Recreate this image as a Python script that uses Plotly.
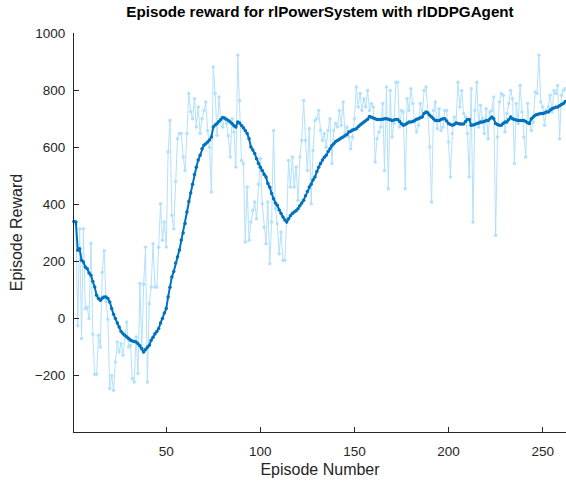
import plotly.graph_objects as go

episode = list(range(1, 263))

episode_reward = [
    340, 330, -25, 315, -70, 315, 35, 40, 0, 263,
    -55, -195, -195, -58, -99, 162, 238, 60, -2, -245,
    -199, -251, -152, -82, -117, -88, -128, -60, -12, -99,
    -93, -210, -222, -64, -192, 123, -111, 120, 250, -222,
    52, 111, 262, 111, 111, 250, 402, 274, 338, 251,
    583, 694, 362, 315, 480, 630, 648, 648, 566, 519,
    648, 788, 724, 700, 770, 671, 741, 648, 700, 729,
    758, 659, 600, 443, 881, 788, 642, 776, 700, 671,
    700, 683, 640, 566, 700, 653, 531, 922, 764, 554,
    543, 268, 461, 274, 338, 379, 408, 350, 470, 560,
    402, 320, 262, 408, 192, 338, 659, 385, 332, 227,
    303, 204, 204, 344, 554, 461, 566, 461, 531, 414,
    566, 624, 764, 624, 519, 665, 402, 589, 694, 700,
    729, 659, 624, 648, 600, 659, 700, 543, 659, 683,
    671, 729, 677, 758, 648, 671, 636, 595, 636, 700,
    811, 741, 788, 729, 770, 741, 799, 729, 753, 741,
    548, 630, 653, 671, 753, 519, 811, 455, 799, 636,
    683, 828, 828, 671, 729, 723, 455, 770, 729, 805,
    753, 688, 653, 677, 753, 712, 799, 811, 723, 601,
    408, 729, 758, 665, 735, 659, 671, 729, 729, 618,
    496, 648, 706, 688, 828, 741, 799, 718, 706, 648,
    496, 805, 338, 729, 828, 671, 747, 700, 648, 735,
    630, 723, 729, 776, 292, 636, 758, 788, 782, 653,
    718, 753, 799, 770, 543, 753, 683, 816, 723, 636,
    566, 753, 683, 659, 688, 793, 788, 922, 758, 741,
    677, 729, 741, 782, 723, 799, 788, 816, 630, 782,
    799, 805,
]

average_reward = [
    340, 338, 239, 245, 204, 198, 181, 175, 160, 152,
    130, 111, 82, 70, 64, 72, 76, 76, 70, 58,
    35, 15, 0, -15, -29, -45, -53, -58, -64, -70,
    -76, -78, -80, -82, -88, -95, -105, -117, -108, -100,
    -93, -76, -65, -53, -45, -35, -15, 0, 20, 35,
    76, 110, 146, 165, 195, 216, 240, 275, 300, 333,
    373, 410, 440, 470, 505, 530, 555, 572, 595, 607,
    612, 618, 625, 636, 671, 678, 683, 690, 697, 704,
    702, 698, 694, 688, 682, 675, 671, 688, 685, 676,
    668, 659, 648, 630, 601, 590, 578, 560, 543, 530,
    519, 505, 496, 473, 460, 438, 420, 405, 397, 380,
    368, 356, 345, 338, 350, 360, 368, 373, 378, 385,
    395, 405, 414, 430, 445, 461, 470, 485, 496, 515,
    530, 543, 555, 565, 572, 585, 595, 605, 612, 620,
    624, 628, 632, 636, 640, 645, 653, 656, 660, 662,
    665, 672, 678, 683, 688, 693, 698, 708, 705, 702,
    700, 697, 697, 697, 698, 700, 700, 698, 696, 694,
    695, 697, 697, 690, 682, 677, 680, 684, 688, 688,
    690, 694, 698, 700, 703, 706, 718, 723, 720, 712,
    706, 700, 694, 694, 694, 697, 700, 700, 692, 683,
    680, 677, 680, 685, 683, 681, 681, 681, 690, 697,
    697, 677, 678, 680, 683, 685, 688, 688, 690, 694,
    694, 700, 706, 700, 683, 680, 677, 677, 683, 688,
    688, 697, 706, 700, 697, 695, 694, 694, 694, 694,
    690, 686, 683, 700, 706, 712, 715, 716, 718, 718,
    720, 723, 723, 730, 735, 737, 740, 741, 745, 750,
    753, 760,
]

x_ticks = [50, 100, 150, 200, 250]
y_ticks = [-200, 0, 200, 400, 600, 800, 1000]

FONT = "Liberation Sans, Arial, sans-serif"
AX = "#262626"

fig = go.Figure()
fig.add_trace(go.Scatter(
    x=episode, y=episode_reward, mode="lines+markers",
    line=dict(color="#b3e1fb", width=1),
    marker=dict(color="#b3e1fb", size=3.5),
    name="Episode Reward", cliponaxis=False,
))
fig.add_trace(go.Scatter(
    x=episode, y=average_reward, mode="lines+markers",
    line=dict(color="#0072BD", width=2),
    marker=dict(color="#0072BD", size=3.5),
    name="Average Reward", cliponaxis=False,
))

fig.update_layout(
    width=566, height=485,
    margin=dict(l=74, r=0, t=33, b=53),
    paper_bgcolor="white", plot_bgcolor="white",
    showlegend=False,
    font=dict(family=FONT, color=AX, size=13.5),
    title=dict(
        text="<b>Episode reward for rlPowerSystem with rlDDPGAgent</b>",
        x=0.5, xref="paper", y=1 - 12 / 485, yref="container", yanchor="middle",
        font=dict(family=FONT, size=15.2, color="black"),
    ),
)

fig.update_xaxes(
    range=[1, 262.4], tickvals=x_ticks, ticks="inside", ticklen=5,
    tickcolor=AX, showline=True, linecolor=AX, linewidth=1,
    showgrid=False, zeroline=False, ticklabelstandoff=7,
    title=dict(text="Episode Number", font=dict(size=16, color=AX), standoff=5),
)
fig.update_yaxes(
    range=[-397, 1000], tickvals=y_ticks, ticks="inside", ticklen=5,
    tickcolor=AX, showline=True, linecolor=AX, linewidth=1,
    showgrid=False, zeroline=False, ticklabelstandoff=5,
    title=dict(text="Episode Reward", font=dict(size=16, color=AX), standoff=8),
)

fig.write_html("out.html")
